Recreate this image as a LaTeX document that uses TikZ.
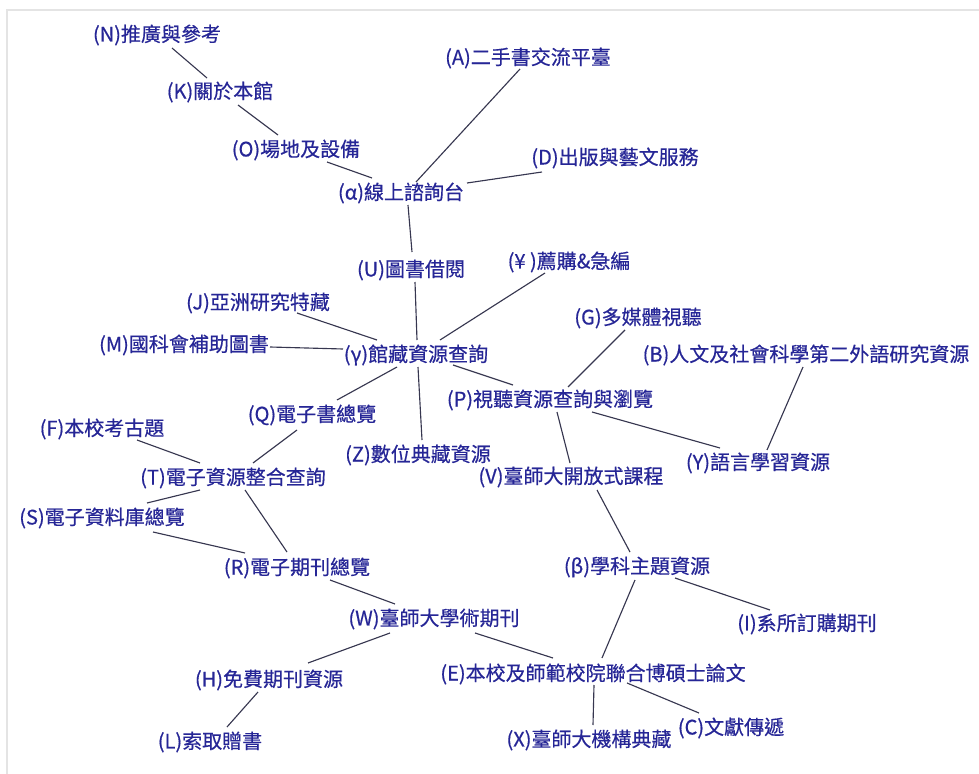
\documentclass[tikz,border=0pt]{standalone}
\usepackage{fontspec}
\newfontfamily\cjk[FakeBold=0.5]{Noto Sans CJK TC}
\definecolor{txt}{RGB}{38,38,150}
\definecolor{ln}{RGB}{55,55,80}
\definecolor{frame}{RGB}{228,228,228}
\begin{document}
\begin{tikzpicture}[x=0.75pt,y=-0.75pt,
  lbl/.style={font=\cjk\fontsize{15}{18}\selectfont, text=txt, inner sep=0pt, anchor=center},
  conn/.style={draw=ln, line width=0.85pt}]
\useasboundingbox (0,0) rectangle (979,774);
\draw[frame, line width=1.2pt] (7,774) -- (7,10) -- (979,10);
% nodes
\node[lbl] (N) at (157,35) {(N)推廣與參考};
\node[lbl] (K) at (220,92) {(K)關於本館};
\node[lbl] (O) at (296,150) {(O)場地及設備};
\node[lbl] (al) at (401,193) {(α)線上諮詢台};
\node[lbl] (A) at (528,58) {(A)二手書交流平臺};
\node[lbl] (D) at (615,158) {(D)出版與藝文服務};
\node[lbl] (U) at (411,270) {(U)圖書借閱};
\node[lbl] (Yen) at (569,262) {(¥ )薦購\&急編};
\node[lbl] (J) at (258,303) {(J)亞洲研究特藏};
\node[lbl] (M) at (184,345) {(M)國科會補助圖書};
\node[lbl] (ga) at (416,355) {(γ)館藏資源查詢};
\node[lbl] (G) at (638,318) {(G)多媒體視聽};
\node[lbl] (B) at (806,355) {(B)人文及社會科學第二外語研究資源};
\node[lbl] (P) at (550,400) {(P)視聽資源查詢與瀏覽};
\node[lbl] (Q) at (312,415) {(Q)電子書總覽};
\node[lbl] (F) at (102,429) {(F)本校考古題};
\node[lbl] (Z) at (418,455) {(Z)數位典藏資源};
\node[lbl] (Y) at (758,463) {(Y)語言學習資源};
\node[lbl] (V) at (571,477) {(V)臺師大開放式課程};
\node[lbl] (T) at (233,478) {(T)電子資源整合查詢};
\node[lbl] (S) at (102,518) {(S)電子資料庫總覽};
\node[lbl] (R) at (297,568) {(R)電子期刊總覽};
\node[lbl] (be) at (637,567) {(β)學科主題資源};
\node[lbl] (I) at (807,624) {(I)系所訂購期刊};
\node[lbl] (W) at (434,619) {(W)臺師大學術期刊};
\node[lbl] (H) at (269,680) {(H)免費期刊資源};
\node[lbl] (E) at (593,674) {(E)本校及師範校院聯合博碩士論文};
\node[lbl] (L) at (210,742) {(L)索取贈書};
\node[lbl] (X) at (589,740) {(X)臺師大機構典藏};
\node[lbl] (C) at (731,728) {(C)文獻傳遞};
% connectors
\draw[conn] ([shift={(15,13)}]N.center) -- ([shift={(-13,-14)}]K.center);
\draw[conn] ([shift={(18,13)}]K.center) -- ([shift={(-18,-15)}]O.center);
\draw[conn] ([shift={(31,12)}]O.center) -- ([shift={(-29,-15)}]al.center);
\draw[conn] ([shift={(15,-11)}]al.center) -- ([shift={(-8,11)}]A.center);
\draw[conn] ([shift={(66,-10)}]al.center) -- ([shift={(-73,14)}]D.center);
\draw[conn] ([shift={(7,12)}]al.center) -- ([shift={(1,-18)}]U.center);
\draw[conn] ([shift={(4,12)}]U.center) -- ([shift={(1,-15)}]ga.center);
\draw[conn] ([shift={(39,10)}]J.center) -- ([shift={(-39,-15)}]ga.center);
\draw[conn] ([shift={(86,2)}]M.center) -- ([shift={(-73,-6)}]ga.center);
\draw[conn] ([shift={(-24,11)}]Yen.center) -- ([shift={(24,-15)}]ga.center);
\draw[conn] ([shift={(-19,12)}]ga.center) -- ([shift={(25,-15)}]Q.center);
\draw[conn] ([shift={(2,12)}]ga.center) -- ([shift={(4,-15)}]Z.center);
\draw[conn] ([shift={(37,10)}]ga.center) -- ([shift={(-37,-15)}]P.center);
\draw[conn] ([shift={(-13,12)}]G.center) -- ([shift={(18,-13)}]P.center);
\draw[conn] ([shift={(42,12)}]P.center) -- ([shift={(-38,-15)}]Y.center);
\draw[conn] ([shift={(-3,12)}]B.center) -- ([shift={(9,-13)}]Y.center);
\draw[conn] ([shift={(7,12)}]P.center) -- ([shift={(-1,-14)}]V.center);
\draw[conn] ([shift={(-15,15)}]Q.center) -- ([shift={(20,-15)}]T.center);
\draw[conn] ([shift={(35,11)}]F.center) -- ([shift={(-33,-15)}]T.center);
\draw[conn] ([shift={(-33,12)}]T.center) -- ([shift={(45,-15)}]S.center);
\draw[conn] ([shift={(12,12)}]T.center) -- ([shift={(-10,-16)}]R.center);
\draw[conn] ([shift={(51,14)}]S.center) -- ([shift={(-52,-15)}]R.center);
\draw[conn] ([shift={(33,12)}]R.center) -- ([shift={(-39,-15)}]W.center);
\draw[conn] ([shift={(26,13)}]V.center) -- ([shift={(-7,-15)}]be.center);
\draw[conn] ([shift={(38,11)}]be.center) -- ([shift={(-37,-14)}]I.center);
\draw[conn] ([shift={(-2,13)}]be.center) -- ([shift={(9,-16)}]E.center);
\draw[conn] ([shift={(-44,14)}]W.center) -- ([shift={(39,-17)}]H.center);
\draw[conn] ([shift={(41,14)}]W.center) -- ([shift={(-40,-16)}]E.center);
\draw[conn] ([shift={(-11,12)}]H.center) -- ([shift={(17,-15)}]L.center);
\draw[conn] ([shift={(1,11)}]E.center) -- ([shift={(4,-15)}]X.center);
\draw[conn] ([shift={(34,9)}]E.center) -- ([shift={(-32,-15)}]C.center);
\end{tikzpicture}
\end{document}
